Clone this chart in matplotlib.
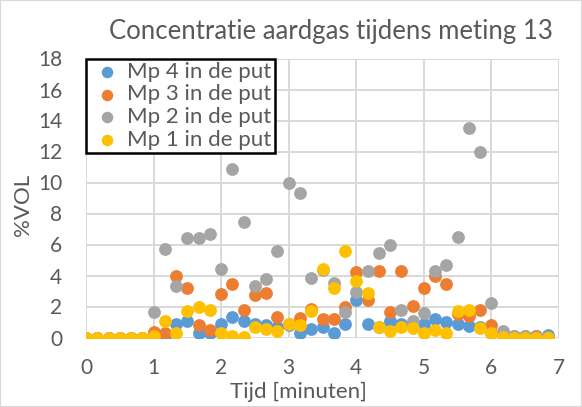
import matplotlib
matplotlib.use('Agg')
from matplotlib import pyplot as plt
from matplotlib.patches import Rectangle
import numpy as np

plt.rcParams['font.family'] = ['Lato', 'DejaVu Sans']

# tijd in minuten, metingen om de 10 seconden
tijd = np.arange(42) / 6

mp4 = [0, 0, 0, 0, 0, 0, 0.1, 0.0, 0.9, 1.05, 0.3, 0.3, 0.85, 1.35, 1.05, 0.9, 0.8, 0.65,
       0.8, 0.3, 0.55, 0.65, 0.3, 0.9, 2.4, 0.85, 0.7, 1.05, 0.9, 0.85, 0.9, 1.2, 1.0, 0.85,
       0.75, 0.7, 0.3, 0.1, 0.05, 0.05, 0.1, 0.15]
mp3 = [0, 0, 0, 0, 0, 0, 0.35, 0.3, 3.95, 3.2, 0.8, 0.5, 2.8, 3.45, 1.8, 2.75, 2.85, 1.35,
       0.85, 1.25, 1.85, 1.2, 1.2, 1.95, 4.2, 2.4, 4.3, 1.65, 4.3, 2.05, 3.2, 4.0, 3.45, 1.5,
       1.4, 1.8, 0.8, 0.3, 0.1, 0.1, 0.1, 0.05]
mp2 = [0, 0, 0, 0, 0, 0, 1.65, 5.7, 3.3, 6.4, 6.4, 6.65, 4.4, 10.85, 7.45, 3.3, 3.8, 5.6,
       9.95, 9.3, 3.85, 4.35, 3.5, 1.65, 2.95, 4.3, 5.45, 5.95, 1.8, 1.05, 1.55, 4.3, 4.7, 6.5,
       13.5, 12.0, 2.2, 0.4, 0.1, 0.1, 0.05, 0.05]
mp1 = [0, 0, 0, 0, 0, 0, 0.1, 1.05, 0.3, 1.7, 1.95, 1.8, 0.3, 0.1, 0.05, 0.7, 0.55, 0.4,
       0.9, 0.8, 1.7, 4.45, 3.2, 5.6, 3.65, 2.85, 0.7, 0.45, 0.65, 0.6, 0.3, 0.5, 0.3, 1.7,
       1.8, 0.6, 0.3, 0.05, 0, 0, 0, 0]

series = [('Mp 4 in de put', mp4, '#5B9BD5'),
          ('Mp 3 in de put', mp3, '#ED7D31'),
          ('Mp 2 in de put', mp2, '#A5A5A5'),
          ('Mp 1 in de put', mp1, '#FFC000')]

fig = plt.figure(figsize=(5.82, 4.07), dpi=100)
ax = fig.add_axes([86 / 582, 1 - 337.5 / 407, (559 - 86) / 582, (337.5 - 58.5) / 407])

for naam, waarden, kleur in series:
    ax.scatter(tijd, waarden, s=85, color=kleur, label=naam, zorder=3, linewidths=0)

ax.set_xlim(0, 7)
ax.set_ylim(0, 18)
ax.set_xticks(range(0, 8))
ax.set_yticks(range(0, 19, 2))
ax.grid(True, color='#d9d9d9', linewidth=1.4, zorder=0)
ax.set_axisbelow(True)
for s in ax.spines.values():
    s.set_visible(False)
ax.tick_params(length=0, labelsize=15, labelcolor='#595959')
ax.tick_params(axis='x', pad=15)
ax.tick_params(axis='y', pad=17)

# positie van de as-titels in pixels van het plaatje
ax.set_xlabel('Tijd [minuten]', fontsize=16, color='#595959', va='center')
ax.xaxis.set_label_coords((298 - 86) / 473, -(392 - 337.5) / 279, transform=ax.transAxes)
ax.set_ylabel('%VOL', fontsize=16, color='#595959', va='center')
ax.yaxis.set_label_coords(-(86 - 23) / 473, (337.5 - 205) / 279, transform=ax.transAxes)

fig.text(331 / 582, 1 - 31 / 407, 'Concentratie aardgas tijdens meting 13',
         ha='center', va='center', fontsize=18.5, color='#595959')

leg = ax.legend(loc='upper left', bbox_to_anchor=(0.0, 1.0), prop={'size': 16},
                frameon=True, fancybox=False, edgecolor='black', framealpha=1,
                borderaxespad=0, handletextpad=0.1, labelspacing=0.12,
                handlelength=1.6, borderpad=0.15, markerscale=0.9)
leg.get_frame().set_linewidth(1.8)
for t in leg.get_texts():
    t.set_color('#595959')

fig.patches.append(Rectangle((0, 0), 1, 1, transform=fig.transFigure, fill=False,
                             edgecolor='#d9d9d9', linewidth=1.5))

fig.savefig('out.png', dpi=100)
